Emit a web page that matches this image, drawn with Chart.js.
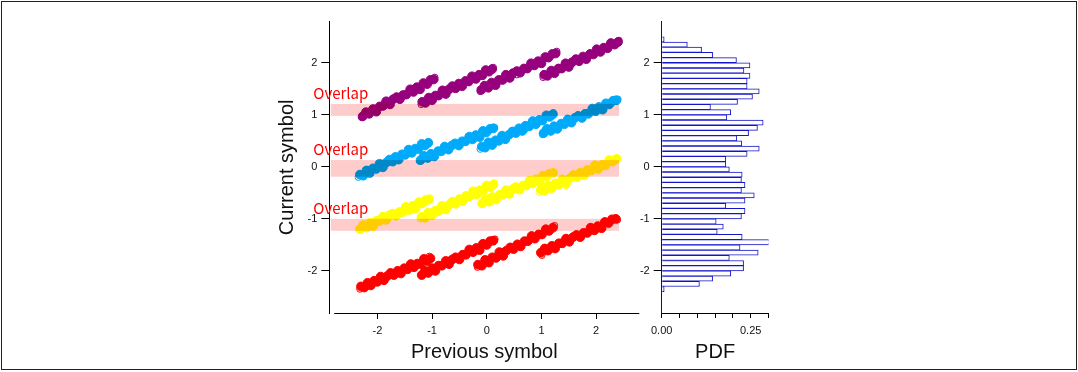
<!DOCTYPE html>
<html>
<head>
<meta charset="utf-8">
<script src="https://cdn.jsdelivr.net/npm/chart.js@4/dist/chart.umd.min.js"></script>
<style>
  html, body { margin: 0; padding: 0; background: #fff; }
  #wrap { position: relative; width: 1078px; height: 372px; overflow: hidden; }
  #frame { position: absolute; left: 1px; top: 1px; width: 1074px; height: 367px; border: 1px solid #222; }
  canvas { position: absolute; left: 0; top: 0; }
</style>
</head>
<body>
<div id="wrap">
  <div id="frame"></div>
  <canvas id="scatter" width="1078" height="372"></canvas>
  <canvas id="hist" width="1078" height="372"></canvas>
</div>
<script>
// ---- received symbol clusters: [previous, current] ----
const redCore = [
  [-2.30,-2.30],[-2.24,-2.32],[-2.18,-2.23],[-2.12,-2.28],[-2.06,-2.19],[-2.00,-2.21],[-1.94,-2.11],[-1.88,-2.18],[-1.82,-2.10],[-1.76,-2.04],[-1.70,-2.08],[-1.63,-2.00],[-1.57,-2.05],[-1.51,-1.95],[-1.45,-1.97],[-1.39,-1.87],[-1.33,-1.93],[-1.27,-1.86],[-1.21,-1.87],[-1.15,-1.77],[-1.09,-1.81],[-1.03,-1.76],
  [-1.19,-2.08],[-1.13,-2.00],[-1.07,-2.04],[-1.00,-1.95],[-0.94,-2.00],[-0.88,-1.90],[-0.82,-1.90],[-0.75,-1.81],[-0.69,-1.87],[-0.63,-1.78],[-0.57,-1.74],[-0.50,-1.78],[-0.44,-1.69],[-0.38,-1.69],[-0.32,-1.59],[-0.25,-1.64],[-0.19,-1.56],[-0.13,-1.60],[-0.07,-1.48],[0.00,-1.50],[0.06,-1.43],[0.12,-1.42],
  [-0.16,-1.88],[-0.09,-1.90],[-0.03,-1.79],[0.04,-1.84],[0.10,-1.74],[0.17,-1.75],[0.23,-1.64],[0.30,-1.71],[0.36,-1.61],[0.43,-1.55],[0.49,-1.58],[0.56,-1.49],[0.62,-1.53],[0.69,-1.43],[0.75,-1.43],[0.82,-1.33],[0.88,-1.38],[0.95,-1.30],[1.01,-1.30],[1.08,-1.20],[1.14,-1.23],[1.21,-1.17],
  [0.99,-1.65],[1.06,-1.57],[1.12,-1.61],[1.19,-1.52],[1.25,-1.57],[1.32,-1.47],[1.38,-1.47],[1.45,-1.38],[1.51,-1.44],[1.58,-1.35],[1.64,-1.31],[1.71,-1.35],[1.77,-1.27],[1.84,-1.27],[1.90,-1.17],[1.97,-1.22],[2.03,-1.14],[2.10,-1.18],[2.16,-1.06],[2.23,-1.08],[2.29,-1.01],[2.36,-1.00]
];
const redStray = [[-1.05,-1.72],[-0.17,-1.93],[0.15,-1.39],[1.24,-1.13],[1.01,-1.70],[2.39,-1.02],[-2.32,-2.35],[0.32,-1.62],[1.74,-1.30]];

const yellowCore = [
  [-2.32,-1.20],[-2.26,-1.12],[-2.20,-1.17],[-2.14,-1.08],[-2.08,-1.14],[-2.02,-1.04],[-1.96,-1.04],[-1.90,-0.96],[-1.84,-1.02],[-1.78,-0.93],[-1.72,-0.90],[-1.66,-0.94],[-1.60,-0.87],[-1.54,-0.87],[-1.48,-0.77],[-1.42,-0.83],[-1.36,-0.75],[-1.30,-0.80],[-1.24,-0.68],[-1.18,-0.70],[-1.12,-0.64],[-1.06,-0.63],
  [-1.19,-0.96],[-1.13,-0.98],[-1.07,-0.88],[-1.00,-0.93],[-0.94,-0.84],[-0.88,-0.85],[-0.82,-0.75],[-0.75,-0.82],[-0.69,-0.73],[-0.63,-0.67],[-0.57,-0.71],[-0.50,-0.62],[-0.44,-0.66],[-0.38,-0.56],[-0.32,-0.57],[-0.25,-0.47],[-0.19,-0.53],[-0.13,-0.45],[-0.07,-0.46],[0.00,-0.36],[0.06,-0.39],[0.12,-0.34],
  [-0.08,-0.70],[-0.02,-0.62],[0.04,-0.67],[0.10,-0.58],[0.17,-0.63],[0.23,-0.54],[0.29,-0.54],[0.35,-0.45],[0.41,-0.52],[0.47,-0.43],[0.53,-0.39],[0.60,-0.44],[0.66,-0.36],[0.72,-0.36],[0.78,-0.27],[0.84,-0.32],[0.90,-0.24],[0.96,-0.29],[1.03,-0.17],[1.09,-0.19],[1.15,-0.13],[1.21,-0.12],
  [0.99,-0.44],[1.06,-0.46],[1.12,-0.36],[1.19,-0.41],[1.25,-0.32],[1.32,-0.34],[1.38,-0.24],[1.45,-0.31],[1.52,-0.22],[1.58,-0.16],[1.65,-0.20],[1.71,-0.11],[1.78,-0.16],[1.84,-0.06],[1.91,-0.07],[1.98,0.03],[2.04,-0.04],[2.11,0.04],[2.17,0.03],[2.24,0.13],[2.30,0.10],[2.37,0.15]
];
const yellowStray = [[-1.04,-0.60],[-1.22,-1.00],[0.14,-0.31],[-0.10,-0.72],[1.23,-0.10],[0.96,-0.49],[2.39,0.17],[1.45,-0.36]];

const blueCore = [
  [-2.32,-0.15],[-2.26,-0.17],[-2.20,-0.07],[-2.14,-0.12],[-2.08,-0.03],[-2.02,-0.04],[-1.96,0.06],[-1.90,-0.01],[-1.84,0.08],[-1.78,0.14],[-1.72,0.10],[-1.67,0.19],[-1.61,0.14],[-1.55,0.24],[-1.49,0.23],[-1.43,0.33],[-1.37,0.27],[-1.31,0.35],[-1.25,0.34],[-1.19,0.44],[-1.13,0.41],[-1.07,0.46],
  [-1.21,0.13],[-1.15,0.21],[-1.08,0.17],[-1.02,0.25],[-0.96,0.20],[-0.89,0.30],[-0.83,0.30],[-0.77,0.39],[-0.70,0.33],[-0.64,0.41],[-0.58,0.45],[-0.51,0.41],[-0.45,0.49],[-0.39,0.49],[-0.32,0.58],[-0.26,0.53],[-0.20,0.61],[-0.13,0.57],[-0.07,0.69],[-0.01,0.66],[0.06,0.73],[0.12,0.74],
  [-0.09,0.39],[-0.03,0.37],[0.03,0.47],[0.10,0.42],[0.16,0.51],[0.22,0.50],[0.28,0.60],[0.34,0.53],[0.41,0.62],[0.47,0.68],[0.53,0.65],[0.59,0.74],[0.65,0.69],[0.71,0.79],[0.78,0.78],[0.84,0.88],[0.90,0.82],[0.96,0.90],[1.02,0.89],[1.09,0.99],[1.15,0.96],[1.21,1.01],
  [1.04,0.65],[1.10,0.73],[1.17,0.69],[1.23,0.78],[1.29,0.73],[1.36,0.83],[1.42,0.82],[1.48,0.91],[1.55,0.85],[1.61,0.94],[1.67,0.98],[1.74,0.94],[1.80,1.02],[1.86,1.02],[1.93,1.12],[1.99,1.07],[2.05,1.15],[2.12,1.10],[2.18,1.22],[2.24,1.20],[2.31,1.27],[2.37,1.28]
];
const blueStray = [[-2.35,-0.20],[-1.06,0.48],[-1.23,0.11],[0.14,0.76],[-0.12,0.34],[1.22,1.04],[1.02,0.62],[2.40,1.30],[0.70,0.72]];

const purpleCore = [
  [-2.27,0.97],[-2.21,1.05],[-2.15,1.02],[-2.08,1.11],[-2.02,1.06],[-1.96,1.16],[-1.90,1.17],[-1.84,1.26],[-1.77,1.20],[-1.71,1.30],[-1.65,1.34],[-1.59,1.30],[-1.53,1.38],[-1.47,1.39],[-1.40,1.49],[-1.34,1.44],[-1.28,1.53],[-1.22,1.49],[-1.16,1.61],[-1.09,1.59],[-1.03,1.67],[-0.97,1.68],
  [-1.18,1.25],[-1.12,1.23],[-1.06,1.33],[-1.00,1.28],[-0.94,1.37],[-0.88,1.37],[-0.81,1.47],[-0.75,1.40],[-0.69,1.49],[-0.63,1.55],[-0.57,1.51],[-0.51,1.60],[-0.45,1.55],[-0.39,1.65],[-0.33,1.64],[-0.27,1.74],[-0.20,1.69],[-0.14,1.77],[-0.08,1.76],[-0.02,1.86],[0.04,1.83],[0.10,1.88],
  [-0.10,1.48],[-0.04,1.56],[0.03,1.52],[0.09,1.62],[0.16,1.57],[0.22,1.67],[0.29,1.67],[0.35,1.77],[0.42,1.71],[0.48,1.80],[0.55,1.84],[0.61,1.81],[0.68,1.89],[0.74,1.89],[0.81,1.99],[0.87,1.95],[0.94,2.03],[1.00,1.99],[1.07,2.11],[1.13,2.10],[1.20,2.17],[1.26,2.18],
  [1.05,1.77],[1.11,1.75],[1.18,1.85],[1.24,1.80],[1.31,1.89],[1.37,1.89],[1.44,1.99],[1.50,1.92],[1.56,2.01],[1.63,2.07],[1.69,2.03],[1.76,2.12],[1.82,2.07],[1.89,2.17],[1.95,2.16],[2.01,2.26],[2.08,2.21],[2.14,2.29],[2.21,2.28],[2.27,2.38],[2.34,2.35],[2.40,2.40]
];
const purpleStray = [[-0.95,1.72],[-1.20,1.20],[-0.12,1.45],[0.12,1.91],[1.28,2.22],[1.03,1.72],[2.42,2.43],[-2.29,0.95],[0.55,1.77]];

// ---- ambiguous ranges where neighbouring clusters overlap: [low, high] ----
const overlapBands = [[0.98, 1.21], [-0.19, 0.13], [-1.23, -1.00]];
const overlapText = 'Overlap';
const bandEndX = 2.42;

// ---- histogram of the current symbol: bin centres and probability density ----
const binCenters = [2.45,2.35,2.25,2.15,2.05,1.95,1.85,1.75,1.65,1.55,1.45,1.35,1.25,1.15,1.05,0.95,0.85,0.75,0.65,0.55,0.45,0.35,0.25,0.15,0.05,
  -0.05,-0.15,-0.25,-0.35,-0.45,-0.55,-0.65,-0.75,-0.85,-0.95,-1.05,-1.15,-1.25,-1.35,-1.45,-1.55,-1.65,-1.75,-1.85,-1.95,-2.05,-2.15,-2.25,-2.35];
const pdfValues = [0.007,0.072,0.112,0.143,0.210,0.248,0.231,0.248,0.240,0.240,0.274,0.255,0.213,0.137,0.194,0.183,0.285,0.269,0.244,0.211,0.225,0.274,0.240,0.180,0.180,
  0.190,0.226,0.224,0.234,0.224,0.260,0.234,0.180,0.234,0.224,0.153,0.173,0.156,0.226,0.304,0.220,0.271,0.190,0.230,0.230,0.194,0.143,0.106,0.007];
const pdfTicks = [0, 0.25];

// axis limits
const yMin = -2.81, yMax = 2.79;
const xMin = -2.88, xMax = 2.79, xAxisStart = -2.79;

const COLORS = { purple: 'rgb(150,0,125)', blue: 'rgb(0,170,250)', yellow: 'rgb(255,255,0)', red: 'rgb(255,0,0)', band: 'rgb(255,204,204)' };

Chart.defaults.font.family = '"Liberation Sans", Arial, sans-serif';
Chart.defaults.color = '#111';

const toXY = arr => arr.map(([x, y]) => ({ x, y }));

function core(data, color) {
  return { data: toXY(data), pointRadius: 4.4, pointBorderWidth: 1, borderColor: color, backgroundColor: color, pointHoverRadius: 4.4 };
}
function stray(data, color) {
  return { data: toXY(data), pointRadius: 3.2, pointBorderWidth: 1, borderColor: color, backgroundColor: 'rgba(0,0,0,0)', pointHoverRadius: 3.2 };
}

// pink overlap bands blended over the clusters, their labels, and the detached x axis line
const overlapPlugin = {
  id: 'overlapPlugin',
  afterDatasetsDraw(chart) {
    const { ctx, chartArea, scales: { x, y } } = chart;
    ctx.save();
    ctx.globalCompositeOperation = 'multiply';
    ctx.fillStyle = COLORS.band;
    const left = chartArea.left + 1.5;
    const right = x.getPixelForValue(bandEndX);
    overlapBands.forEach(([lo, hi]) => {
      const top = y.getPixelForValue(hi), bot = y.getPixelForValue(lo);
      ctx.fillRect(left, top, right - left, bot - top);
    });
    ctx.globalCompositeOperation = 'source-over';
    ctx.fillStyle = '#ff0000';
    ctx.font = '15px "Noto Sans CJK JP", "Liberation Sans", sans-serif';
    ctx.textAlign = 'left';
    ctx.textBaseline = 'middle';
    overlapBands.forEach(([lo, hi]) => {
      ctx.fillText(overlapText, chartArea.left - 16, y.getPixelForValue(hi) - 11);
    });
    ctx.strokeStyle = '#000';
    ctx.lineWidth = 1;
    const yb = Math.round(chartArea.bottom) + 0.5;
    ctx.beginPath();
    ctx.moveTo(x.getPixelForValue(xAxisStart), yb);
    ctx.lineTo(chartArea.right, yb);
    ctx.stroke();
    ctx.restore();
  }
};

const yTicks = { stepSize: 1, includeBounds: false, padding: 4, font: { size: 11 }, color: '#111', callback: v => String(v) };

new Chart(document.getElementById('scatter'), {
  type: 'scatter',
  data: {
    datasets: [
      core(purpleCore, COLORS.purple), stray(purpleStray, COLORS.purple),
      core(blueCore, COLORS.blue), stray(blueStray, COLORS.blue),
      core(yellowCore, COLORS.yellow), stray(yellowStray, COLORS.yellow),
      core(redCore, COLORS.red), stray(redStray, COLORS.red)
    ]
  },
  options: {
    responsive: false,
    animation: false,
    events: [],
    layout: { padding: { left: 275, right: 438.7, top: 21.7, bottom: 8 } },
    plugins: { legend: { display: false }, tooltip: { enabled: false } },
    scales: {
      x: {
        type: 'linear', min: xMin, max: xMax,
        afterFit: s => { s.height = 51; },
        border: { display: false },
        grid: { drawOnChartArea: false, drawTicks: true, tickLength: 6, color: '#000' },
        ticks: { stepSize: 1, includeBounds: false, padding: 5, maxRotation: 0, autoSkip: false, font: { size: 11 }, color: '#111', callback: v => String(v) },
        title: { display: true, text: 'Previous symbol', font: { size: 20 }, color: '#111', padding: 0 }
      },
      y: {
        type: 'linear', min: yMin, max: yMax,
        afterFit: s => { s.width = 54.3; },
        border: { display: true, color: '#000', width: 1 },
        grid: { drawOnChartArea: false, drawTicks: true, tickLength: 8, color: '#000' },
        ticks: yTicks,
        title: { display: true, text: 'Current symbol', font: { size: 20 }, color: '#111', padding: 0 }
      }
    }
  },
  plugins: [overlapPlugin]
});

new Chart(document.getElementById('hist'), {
  type: 'bar',
  data: {
    datasets: [{
      data: binCenters.map((c, i) => ({ x: pdfValues[i], y: c })),
      backgroundColor: '#ffffff',
      borderColor: '#1414c8',
      borderWidth: 1,
      barPercentage: 1,
      categoryPercentage: 1
    }]
  },
  options: {
    indexAxis: 'y',
    responsive: false,
    animation: false,
    events: [],
    layout: { padding: { left: 620, right: 309.5, top: 21.7, bottom: 8 } },
    plugins: { legend: { display: false }, tooltip: { enabled: false } },
    scales: {
      x: {
        type: 'linear', min: 0, max: 0.3,
        afterFit: s => { s.height = 51; },
        border: { display: true, color: '#000', width: 1 },
        grid: { drawOnChartArea: false, drawTicks: true, tickLength: 5, color: '#000' },
        ticks: {
          stepSize: 0.05, padding: 6, maxRotation: 0, autoSkip: false, font: { size: 11 }, color: '#111',
          callback: v => pdfTicks.some(t => Math.abs(t - v) < 1e-9) ? v.toFixed(2) : ''
        },
        title: { display: true, text: 'PDF', font: { size: 20 }, color: '#111', padding: 0 }
      },
      y: {
        type: 'linear', min: yMin, max: yMax, offset: false,
        afterFit: s => { s.width = 41.7; },
        border: { display: true, color: '#10106a', width: 1 },
        grid: { drawOnChartArea: false, drawTicks: true, tickLength: 8, color: '#000', offset: false },
        ticks: yTicks
      }
    }
  }
});
</script>
</body>
</html>
